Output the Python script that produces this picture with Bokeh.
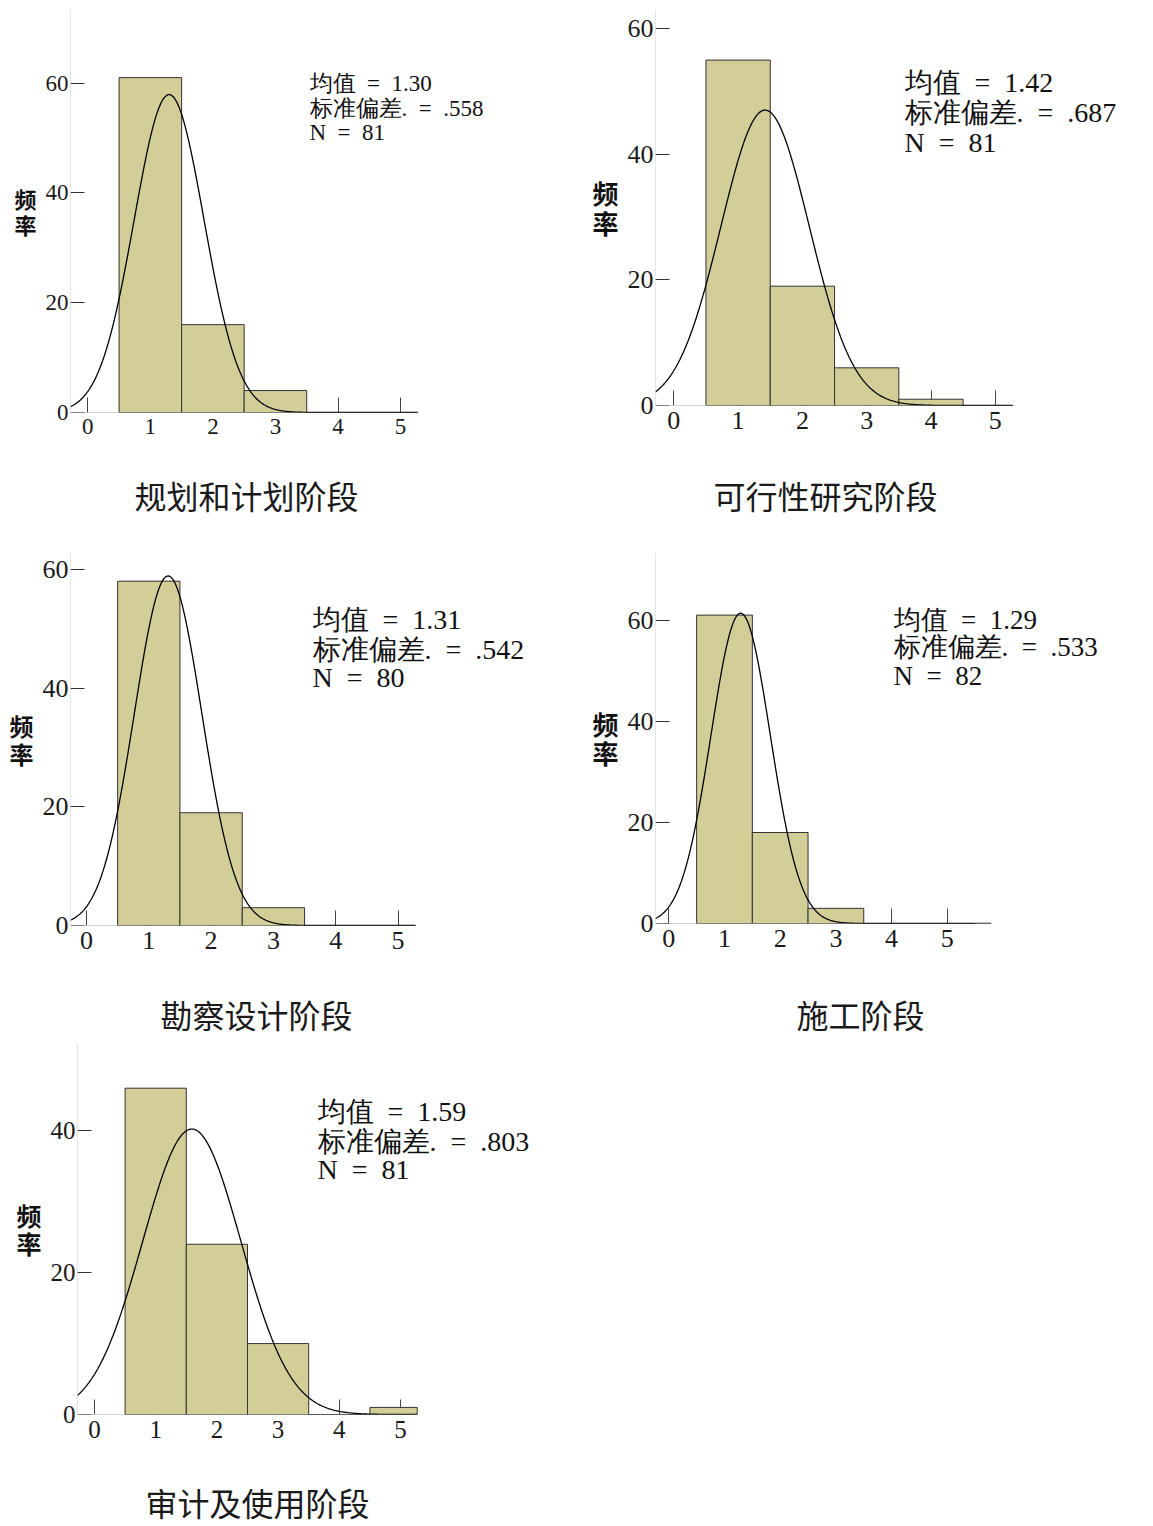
import numpy as np
from bokeh.plotting import figure
from bokeh.models import FixedTicker, Label, Range1d, LinearAxis, Title
from bokeh.layouts import column, row
from bokeh.embed import file_html
from bokeh.resources import INLINE

# ---------------- data ----------------
titles = ["规划和计划阶段", "可行性研究阶段", "勘察设计阶段", "施工阶段", "审计及使用阶段"]
bin_centers = [1, 2, 3, 4, 5]
counts_plan = [61, 16, 4, 0, 0]
counts_feasibility = [55, 19, 6, 1, 0]
counts_design = [58, 19, 3, 0, 0]
counts_construction = [61, 18, 3, 0, 0]
counts_audit = [46, 24, 10, 0, 1]
all_counts = [counts_plan, counts_feasibility, counts_design, counts_construction, counts_audit]
means = [1.30, 1.42, 1.31, 1.29, 1.59]
sds = [0.558, 0.687, 0.542, 0.533, 0.803]
ns = [81, 81, 80, 82, 81]
mean_labels = ["1.30", "1.42", "1.31", "1.29", "1.59"]
sd_labels = [".558", ".687", ".542", ".533", ".803"]
x_ticks = [0, 1, 2, 3, 4, 5]
y_ticks = [[0, 20, 40, 60], [0, 20, 40, 60], [0, 20, 40, 60], [0, 20, 40, 60], [0, 20, 40]]
y_label = "频\n率"

# ---------------- layout (page px) ----------------
layouts = [
    dict(ox=0, oy=0, W=580, H=530, fl=70, ft=9, fr=576, fb=412, tick0=87.3, ppx=62.55, xend=417.3, ppy=5.49,
         tick=23, ylab=22, stat=23, sx=309, sy=(83.3, 108.3, 132.3), tx=246, ty=494),
    dict(ox=580, oy=0, W=570, H=523, fl=655, ft=9, fr=1147, fb=405, tick0=673.3, ppx=64.3, xend=1012.3, ppy=6.28,
         tick=26, ylab=26, stat=28, sx=904, sy=(81.7, 111.7, 141.7), tx=825, ty=495),
    dict(ox=0, oy=530, W=580, H=510, fl=70, ft=552, fr=576, fb=929, tick0=86.0, ppx=62.3, xend=415.0, ppy=6.0,
         tick=26, ylab=24, stat=28, sx=312, sy=(620, 650, 678), tx=256, ty=1018),
    dict(ox=580, oy=530, W=570, H=508, fl=655, ft=552, fr=1147, fb=927, tick0=668.3, ppx=55.7, xend=990.7, ppy=5.11,
         tick=26, ylab=26, stat=27, sx=893, sy=(620, 648, 677), tx=860, ty=1018),
    dict(ox=0, oy=1040, W=580, H=486, fl=77, ft=1043, fr=576, fb=1418, tick0=94.0, ppx=61.2, xend=416.7, ppy=7.17,
         tick=25, ylab=25, stat=28, sx=317, sy=(1111.7, 1141.7, 1170), tx=257, ty=1505),
]

BAR_FILL = "#d3ce97"
BAR_LINE = "#333333"
SERIF = "Liberation Serif"
CJK = "Noto Sans CJK SC"
TITLE_SIZE = 32
SP = "\u2002"  # half-width space, as in the original typesetting


figs = []
for i, L in enumerate(layouts):
    xr0 = (L["fl"] - L["tick0"]) / L["ppx"]
    xr1 = (L["fr"] - L["tick0"]) / L["ppx"]
    xb1 = (L["xend"] - L["tick0"]) / L["ppx"]
    ytop = (L["fb"] - L["ft"]) / L["ppy"]

    def to_data(px, py):
        return (px - L["tick0"]) / L["ppx"], (L["fb"] - py) / L["ppy"]

    p = figure(width=L["W"], height=L["H"], output_backend="svg", toolbar_location=None,
               x_range=Range1d(xr0, xr1), y_range=Range1d(0, ytop), title=None,
               min_border_left=L["fl"] - L["ox"], min_border_top=L["ft"] - L["oy"],
               min_border_right=L["ox"] + L["W"] - L["fr"], min_border_bottom=L["oy"] + L["H"] - L["fb"])
    p.outline_line_color = None
    p.grid.visible = False
    p.background_fill_color = "white"
    p.border_fill_color = "white"

    counts = all_counts[i]
    lefts = [c - 0.5 for c in bin_centers]
    rights = [min(c + 0.5, xb1) for c in bin_centers]
    p.quad(left=lefts, right=rights, bottom=0, top=counts, fill_color=BAR_FILL,
           line_color=BAR_LINE, line_width=1)

    xs = np.linspace(xr0, xb1, 400)
    m, s, n = means[i], sds[i], ns[i]
    ys = n * np.exp(-(xs - m) ** 2 / (2 * s ** 2)) / (s * np.sqrt(2 * np.pi))
    p.line(xs, ys, line_color="black", line_width=1.3)

    # axis line + inner ticks (drawn beneath the bars)
    xa = p.xaxis[0]
    xa.ticker = FixedTicker(ticks=x_ticks)
    xa.bounds = (xr0, xb1)
    xa.major_tick_in = 15
    xa.major_tick_out = 0
    xa.minor_tick_line_color = None
    xa.axis_line_color = "#a8a8a8"
    xa.major_tick_line_color = "#444444"
    xa.major_label_text_font_size = "1px"
    xa.major_label_text_color = None
    xa.major_label_standoff = 0
    xa.level = "underlay"

    ya = p.yaxis[0]
    ya.ticker = FixedTicker(ticks=y_ticks[i])
    ya.bounds = (0, ytop)
    ya.major_tick_in = 14
    ya.major_tick_out = 0
    ya.minor_tick_line_color = None
    ya.axis_line_color = "#cccccc"
    ya.major_tick_line_color = "#333333"
    ya.major_label_text_font_size = "1px"
    ya.major_label_text_color = None
    ya.major_label_standoff = 0
    ya.level = "underlay"

    # tick labels (and y axis title)
    xl = LinearAxis(ticker=FixedTicker(ticks=x_ticks), bounds=(xr0, xb1), axis_line_color=None,
                    major_tick_line_color=None, minor_tick_line_color=None,
                    major_tick_in=0, major_tick_out=0,
                    major_label_text_font=SERIF, major_label_text_font_size=f"{L['tick']}px",
                    major_label_text_color="#1a1a1a", major_label_standoff=6)
    p.add_layout(xl, "below")

    yl = LinearAxis(ticker=FixedTicker(ticks=y_ticks[i]), bounds=(0, ytop), axis_line_color=None,
                    major_tick_line_color=None, minor_tick_line_color=None,
                    major_tick_in=0, major_tick_out=0,
                    major_label_text_font=SERIF, major_label_text_font_size=f"{L['tick']}px",
                    major_label_text_color="#1a1a1a", major_label_standoff=2,
                    axis_label=y_label, axis_label_orientation="horizontal",
                    axis_label_text_font=CJK, axis_label_text_font_style="bold",
                    axis_label_text_font_size=f"{L['ylab']}px", axis_label_text_line_height=0.8,
                    axis_label_text_color="#111111", axis_label_standoff=6)
    p.add_layout(yl, "left")

    # invisible spacer before the panel title
    axis_h = 6 + 1.15 * L["tick"]
    gap = L["ty"] - 0.55 * TITLE_SIZE - L["fb"] - axis_h
    sp = LinearAxis(ticker=FixedTicker(ticks=[]), axis_line_color=None, major_tick_line_color=None,
                    minor_tick_line_color=None, major_tick_in=0, major_tick_out=0,
                    axis_label=" ", axis_label_text_font_size="1px", axis_label_text_color=None,
                    axis_label_standoff=int(max(gap, 0)))
    p.add_layout(sp, "below")

    t_left = L["tx"] - len(titles[i]) * TITLE_SIZE / 2
    p.add_layout(Title(text=titles[i], align="left", offset=t_left - L["fl"], standoff=0,
                       vertical_align="top", text_font=CJK, text_font_size=f"{TITLE_SIZE}px",
                       text_font_style="normal", text_color="#1a1a1a"), "below")

    stat_lines = [f"均值{SP}={SP}{mean_labels[i]}", f"标准偏差.{SP}={SP}{sd_labels[i]}", f"N{SP}={SP}{ns[i]}"]
    for line_text, py in zip(stat_lines, L["sy"]):
        dx, dy = to_data(L["sx"], py)
        p.add_layout(Label(x=dx, y=dy, text=line_text, text_font=SERIF,
                           text_font_size=f"{L['stat']}px", text_color="#111111",
                           text_align="left", text_baseline="middle"))
    figs.append(p)

layout = column(row(figs[0], figs[1]), row(figs[2], figs[3]), figs[4])
open("out.html", "w").write(file_html(layout, INLINE))
